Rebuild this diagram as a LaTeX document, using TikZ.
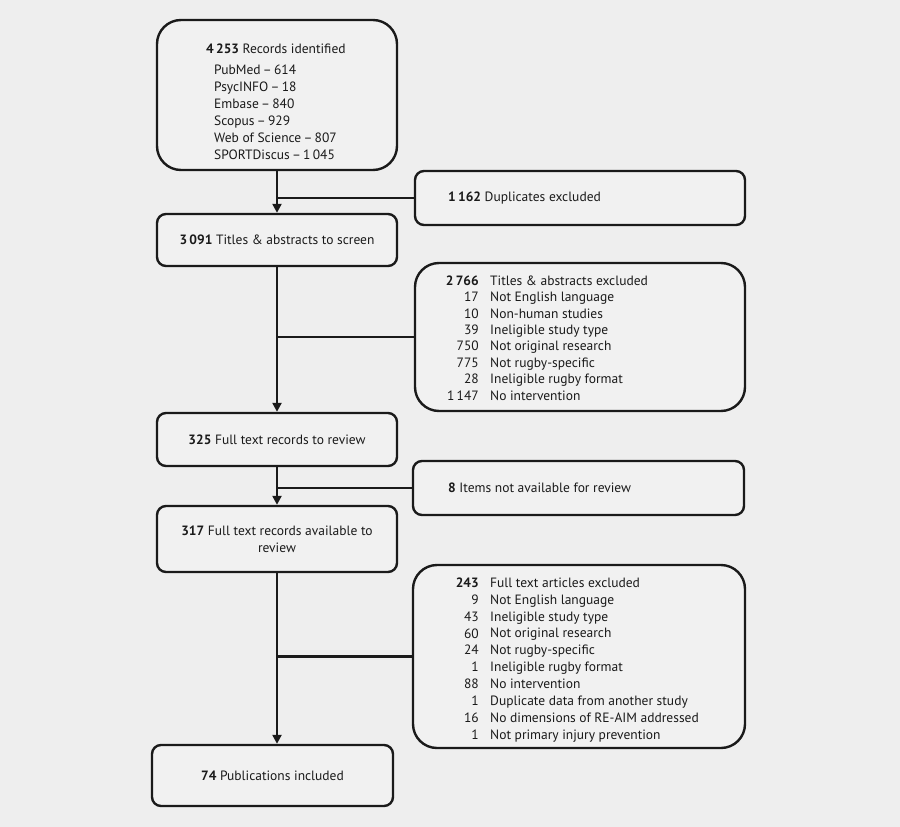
\documentclass[tikz,border=0pt]{standalone}
\usepackage{fontspec}
\setmainfont{PT Sans}
\usetikzlibrary{arrows.meta}
\definecolor{bg}{HTML}{EEEEEE}
\definecolor{boxfill}{HTML}{F1F1F1}
\definecolor{ink}{HTML}{1A1A1A}
\begin{document}
\begin{tikzpicture}[x=1pt,y=-1pt,
  box/.style={draw=ink,fill=boxfill,line width=2.4pt,inner sep=0pt,rectangle},
  bigbox/.style={box,rounded corners=24pt},
  smallbox/.style={box,rounded corners=9pt},
  txt/.style={inner sep=0pt,text=ink,font=\fontsize{13.5}{17}\selectfont},
  conn/.style={draw=ink,line width=2.6pt},
  arr/.style={conn,-{Triangle[width=9pt,length=9pt]}}]
\fill[bg] (0,0) rectangle (900,827);
\useasboundingbox (0,0) rectangle (900,827);
% boxes
\node[bigbox,minimum width=240pt,minimum height=150pt] (b1) at (277,95) {};
\node[smallbox,minimum width=330pt,minimum height=54pt] (b2) at (580,198) {};
\node[smallbox,minimum width=240pt,minimum height=52pt] (b3) at (277,240) {};
\node[bigbox,minimum width=330pt,minimum height=148pt] (b4) at (580,337) {};
\node[smallbox,minimum width=240pt,minimum height=53pt] (b5) at (277,439.5) {};
\node[smallbox,minimum width=331pt,minimum height=54pt] (b6) at (578.5,488) {};
\node[smallbox,minimum width=240pt,minimum height=66pt] (b7) at (277,539) {};
\node[bigbox,minimum width=332pt,minimum height=183pt] (b8) at (579,656.5) {};
\node[smallbox,minimum width=241pt,minimum height=61pt] (b9) at (272.5,775.5) {};
% texts
\node[txt,align=left,anchor=north west] (t1) at (206,44) {\textbf{4\,253} Records identified\\[4pt]
\hspace*{8pt}PubMed\,–\,614\\
\hspace*{8pt}PsycINFO\,–\,18\\
\hspace*{8pt}Embase\,–\,840\\
\hspace*{8pt}Scopus\,–\,929\\
\hspace*{8pt}Web of Science\,–\,807\\
\hspace*{8pt}SPORTDiscus\,–\,1\,045};
\node[txt,anchor=west] (t2) at (448,198) {\textbf{1\,162} Duplicates excluded};
\node[txt] (t3) at (b3.center) {\textbf{3\,091} Titles \& abstracts to screen};
\node[txt,align=right,anchor=north east,font=\fontsize{13.5}{16.4}\selectfont] (t4n) at (479,275.5) {\textbf{2\,766}\\17\\10\\39\\750\\775\\28\\1\,147};
\node[txt,align=left,anchor=north west,font=\fontsize{13.5}{16.4}\selectfont] (t4t) at (490,275.5) {Titles \& abstracts excluded\\Not English language\\Non-human studies\\Ineligible study type\\Not original research\\Not rugby-specific\\Ineligible rugby format\\No intervention};
\node[txt] (t5) at (b5.center) {\textbf{325} Full text records to review};
\node[txt,anchor=west] (t6) at (448,488) {\textbf{8} Items not available for review};
\node[txt,align=center] (t7) at (b7.center) {\textbf{317} Full text records available to\\review};
\node[txt,align=right,anchor=north east,font=\fontsize{13.5}{16.9}\selectfont] (t8n) at (479,577.5) {\textbf{243}\\9\\43\\60\\24\\1\\88\\1\\16\\1};
\node[txt,align=left,anchor=north west,font=\fontsize{13.5}{16.9}\selectfont] (t8t) at (490,577.5) {Full text articles excluded\\Not English language\\Ineligible study type\\Not original research\\Not rugby-specific\\Ineligible rugby format\\No intervention\\Duplicate data from another study\\No dimensions of RE-AIM addressed\\Not primary injury prevention};
\node[txt] (t9) at (b9.center) {\textbf{74} Publications included};
% connectors
\draw[arr] (b1.south) -- (b3.north);
\draw[conn] (b1.south |- b2.west) -- (b2.west);
\draw[arr] (b3.south) -- (b5.north);
\draw[conn] (b3.south |- b4.west) -- (b4.west);
\draw[arr] (b5.south) -- (b7.north);
\draw[conn] (b5.south |- b6.west) -- (b6.west);
\draw[arr] (b7.south) -- (b7.south |- b9.north);
\draw[conn] (b7.south |- b8.west) -- (b8.west);
\end{tikzpicture}
\end{document}
